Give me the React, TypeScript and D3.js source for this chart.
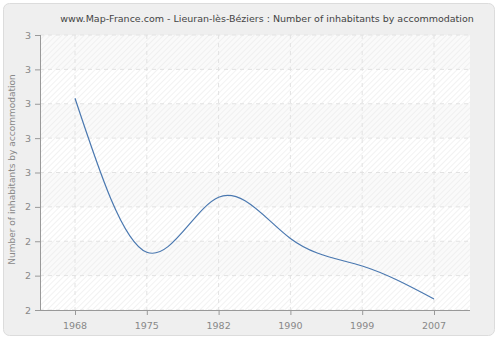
import React from "react";
import * as d3 from "d3";

const years = ["1968", "1975", "1982", "1990", "1999", "2007"];
const values = [2.77, 2.21, 2.41, 2.26, 2.16, 2.04];
const yTicks = [2, 2.125, 2.25, 2.375, 2.5, 2.625, 2.75, 2.875, 3];

const W = 500, H = 340;
const left = 40, right = 470, top = 35, bottom = 310;

export default function App() {
  const x = d3.scalePoint<string>().domain(years).range([75, 434]);
  const y = d3.scaleLinear().domain([2, 3]).range([bottom, top]);
  const line = d3
    .line<number>()
    .x((_, i) => x(years[i]) as number)
    .y((d) => y(d))
    .curve(d3.curveNatural);
  const font = "DejaVu Sans, Verdana, sans-serif";
  const bands = yTicks.slice(0, -1).map((t, i) => ({ y0: y(yTicks[i + 1]), y1: y(t), i }));
  return (
    <svg width={W} height={H} style={{ position: "absolute", left: 0, top: 0 }}>
      <defs>
        <pattern id="hatch" width="4" height="4" patternUnits="userSpaceOnUse" patternTransform="rotate(45)">
          <line x1="0" y1="0" x2="0" y2="4" stroke="#e9e9e9" strokeWidth="1.2" />
        </pattern>
      </defs>
      <rect x={3.5} y={3.5} width={491} height={332} rx={6} fill="#efefef" stroke="#dcdcdc" />
      <rect x={left} y={top} width={right - left} height={bottom - top} fill="#ffffff" />
      {bands.map((b) => (
        <rect key={b.i} x={left} y={b.y0} width={right - left} height={b.y1 - b.y0} fill={b.i % 2 === 1 ? "#fafafa" : "#ffffff"} />
      ))}
      <rect x={left} y={top} width={right - left} height={bottom - top} fill="url(#hatch)" />
      {yTicks.map((t, i) => (
        <line key={"g" + i} x1={left} x2={right} y1={y(t)} y2={y(t)} stroke="#e2e2e2" strokeDasharray="4,4" />
      ))}
      {years.map((yr) => (
        <line key={"v" + yr} x1={x(yr)} x2={x(yr)} y1={top} y2={bottom} stroke="#e2e2e2" strokeDasharray="4,4" />
      ))}
      <path d={line(values) || ""} fill="none" stroke="#4a78b0" strokeWidth={1.2} />
      <line x1={left + 0.5} x2={left + 0.5} y1={top} y2={bottom} stroke="#999" />
      <line x1={35} x2={right} y1={bottom + 0.5} y2={bottom + 0.5} stroke="#999" />
      {yTicks.map((t, i) => (
        <g key={"yt" + i}>
          <line x1={35} x2={left} y1={y(t) + 0.5} y2={y(t) + 0.5} stroke="#999" />
          <text x={31} y={y(t) + 3.5} textAnchor="end" fontSize={9.5} fill="#888" fontFamily={font}>
            {Math.round(t)}
          </text>
        </g>
      ))}
      {years.map((yr) => (
        <g key={"xt" + yr}>
          <line x1={(x(yr) as number) + 0.5} x2={(x(yr) as number) + 0.5} y1={bottom} y2={bottom + 5} stroke="#999" />
          <text x={x(yr)} y={bottom + 19} textAnchor="middle" fontSize={9.5} fill="#888" fontFamily={font}>
            {yr}
          </text>
        </g>
      ))}
      <text x={267} y={22} textAnchor="middle" fontSize={9.5} fill="#444" fontFamily={font}>
        www.Map-France.com - Lieuran-lès-Béziers : Number of inhabitants by accommodation
      </text>
      <text transform={`translate(15,${(top + bottom) / 2 - 3}) rotate(-90)`} textAnchor="middle" fontSize={9} fill="#888" fontFamily={font}>
        Number of inhabitants by accommodation
      </text>
    </svg>
  );
}
